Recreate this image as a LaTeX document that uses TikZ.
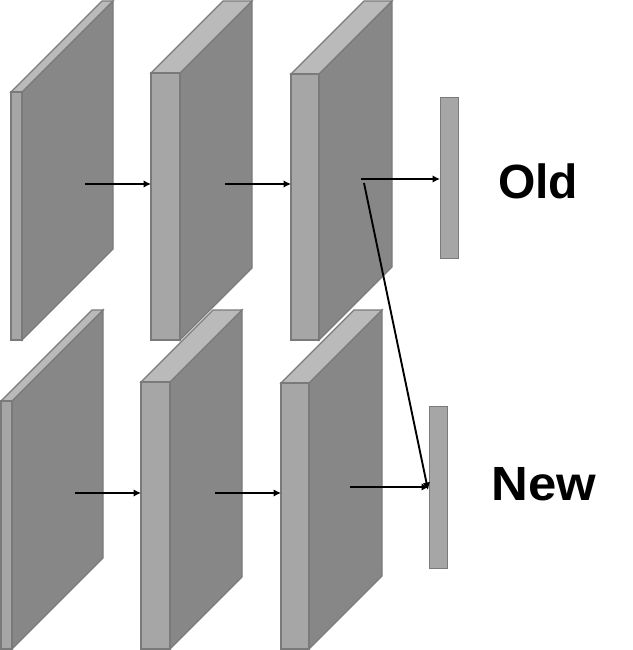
\documentclass[tikz,border=0pt]{standalone}
\usepackage{fontspec}
\setmainfont{Liberation Sans}
\usetikzlibrary{arrows.meta}
\definecolor{frontc}{RGB}{166,166,166}
\definecolor{topc}{RGB}{186,186,186}
\definecolor{sidec}{RGB}{135,135,135}
\definecolor{edgec}{RGB}{122,122,122}
\tikzset{
  face/.style={draw=edgec, line width=1.3pt, line join=miter},
  conn/.style={line width=1.9pt, -{Latex[length=7.5pt,width=7.5pt]}},
  bar/.style={face, fill=frontc, inner sep=0pt, minimum width=18pt},
  lbl/.style={font=\bfseries\fontsize{48}{48}\selectfont, inner sep=0pt}
}
% #1 x0, #2 width, #3 front top y, #4 bottom y, #5 depth
\newcommand\drawslab[5]{%
  \filldraw[face, fill=sidec] (#1+#2,#3) -- (#1+#2+#5,#3-#5) -- (#1+#2+#5,#4-#5) -- (#1+#2,#4) -- cycle;
  \filldraw[face, fill=topc] (#1,#3) -- (#1+#5,#3-#5) -- (#1+#2+#5,#3-#5) -- (#1+#2,#3) -- cycle;
  \filldraw[face, fill=frontc] (#1,#3) rectangle (#1+#2,#4);
}
\begin{document}
\begin{tikzpicture}[x=1pt,y=-1pt]
\useasboundingbox (0,0) rectangle (632,650);
% top row
\drawslab{11}{11}{92}{340}{91}
\drawslab{151}{29}{73}{340}{72}
\drawslab{291}{28}{74}{340}{73}
% bottom row
\drawslab{1}{11}{401}{649}{91}
\drawslab{141}{29}{382}{649}{72}
\drawslab{281}{28}{383}{649}{73}
% output bars
\node[bar, minimum height=161pt, anchor=north west] (oldbar) at (440,97) {};
\node[bar, minimum height=162pt, anchor=north west] (newbar) at (429,406) {};
% labels
\node[lbl, anchor=base] (oldlbl) at (538,198) {Old};
\node[lbl, anchor=base, xscale=1.06] (newlbl) at (544,500) {New};
% coordinates
\coordinate (a1) at (85,184);  \coordinate (b1) at (151,184);
\coordinate (a2) at (225,184); \coordinate (b2) at (291,184);
\coordinate (a3) at (361,179); \coordinate (b3) at (440,179);
\coordinate (d1) at (364,183); \coordinate (d2) at (428,490);
\coordinate (c1) at (75,493);  \coordinate (e1) at (141,493);
\coordinate (c2) at (215,493); \coordinate (e2) at (281,493);
\coordinate (c3) at (350,487); \coordinate (e3) at (429,487);
\draw[conn] (a1) -- (b1);
\draw[conn] (a2) -- (b2);
\draw[conn] (a3) -- (b3);
\draw[conn] (d1) -- (d2);
\draw[conn] (c1) -- (e1);
\draw[conn] (c2) -- (e2);
\draw[conn] (c3) -- (e3);
\end{tikzpicture}
\end{document}
